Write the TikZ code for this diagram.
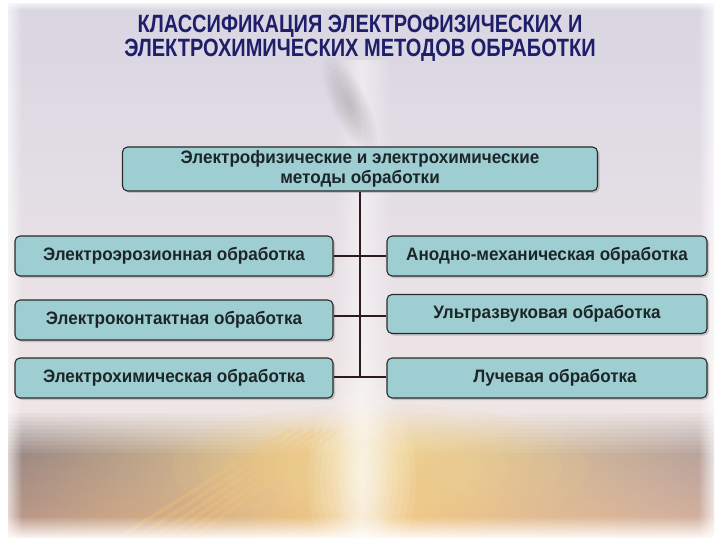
\documentclass[tikz,border=0pt]{standalone}
\usepackage{fontspec}
\setmainfont{Liberation Sans}
\newfontfamily\titlefont{Liberation Sans}[FakeStretch=0.80]
\newfontfamily\boxfont{Liberation Sans}[FakeStretch=0.95]
\usetikzlibrary{shadows,fadings}
\definecolor{boxfill}{HTML}{9FCED2}
\definecolor{boxline}{HTML}{2A2A2A}
\definecolor{titlecol}{HTML}{1E1E6A}
\definecolor{txtcol}{HTML}{1C2628}
\definecolor{linecol}{HTML}{2E1C1C}
\definecolor{bgA}{HTML}{D9D6E2}
\definecolor{bgB}{HTML}{E7E0E6}
\definecolor{bgC}{HTML}{EEE5E5}
\definecolor{glowA}{HTML}{F7E2A6}
\definecolor{glowB}{HTML}{F3C580}
\definecolor{gold}{HTML}{F6D68A}
\definecolor{grayL}{HTML}{857C80}
\definecolor{grayLb}{HTML}{C09A88}
\definecolor{grayR}{HTML}{A3979A}
\definecolor{grayRb}{HTML}{D7B2A0}
\tikzset{
  methodbox/.style={rectangle, rounded corners=5pt, fill=boxfill, draw=boxline,
    line width=1.1pt, text=txtcol, font=\boxfont\bfseries\fontsize{18}{20}\selectfont,
    align=center, drop shadow={shadow xshift=2pt, shadow yshift=-2pt, opacity=0.35}},
  conn/.style={draw=linecol, line width=1.4pt}
}
\begin{document}
\begin{tikzpicture}[x=1pt,y=-1pt]
\useasboundingbox (0,0) rectangle (720,540);
% background
\fill[white] (0,0) rectangle (720,540);
\shade[top color=bgA, bottom color=bgB] (8,4) rectangle (714,250.5);
\shade[top color=bgB, bottom color=bgC] (8,250) rectangle (714,406);
\foreach \i in {0,...,32} {
  \pgfmathtruncatemacro{\p}{min(100,max(0,(\i-1)*100/11))}
  \pgfmathtruncatemacro{\q}{\i*100/32}
  \colorlet{cl}{grayLb!\q!grayL}\colorlet{cl}{cl!\p!bgC}
  \colorlet{cm}{glowB!\q!glowA}\colorlet{cm}{cm!\p!bgC}
  \colorlet{cr}{grayRb!\q!grayR}\colorlet{cr}{cr!\p!bgC}
  \shade[left color=cl, right color=cr, middle color=cm] (8,{405+4*\i}) rectangle (714,{409.6+4*\i});
}
% broad golden glow
\foreach \k in {1,...,8} {
  \fill[gold, opacity=0.08] (380,468) ellipse ({26*\k} and {8*\k});
}
% streaks
\foreach \a in {0,9,18,27,38,50} {
  \draw[glowA!70!orange, opacity=0.3, line width=3.5pt, line cap=round] (340-\a,430) -- (190-1.5*\a,540);
}
% bottom central white glow
\foreach \k in {1,...,9} {
  \fill[white, opacity=0.09] (362,480) ellipse ({6*\k} and {11*\k});
}
% vertical beam
\fill[white, opacity=0.45, path fading=west] (335,60) rectangle (362,540);
\fill[white, opacity=0.45, path fading=east] (362,60) rectangle (392,540);
% gray smudge
\foreach \k in {1,...,8} {
  \fill[gray, opacity=0.05, rotate around={-65:(350,105)}] (350,105) ellipse ({6.5*\k} and {2.2*\k});
}
% soft white edges
\fill[white, path fading=east] (0,0) rectangle (22,540);
\fill[white, path fading=west] (698,0) rectangle (720,540);
\fill[white, path fading=north] (0,516) rectangle (720,540);
\fill[white, path fading=south] (0,0) rectangle (720,10);
% title
\node[text=titlecol, font=\titlefont\bfseries\fontsize{25}{25}\selectfont, align=center] (title) at (360,38)
  {КЛАССИФИКАЦИЯ ЭЛЕКТРОФИЗИЧЕСКИХ И\\[-1pt]ЭЛЕКТРОХИМИЧЕСКИХ МЕТОДОВ ОБРАБОТКИ};
% boxes
\node[methodbox, minimum width=475pt, minimum height=44pt, font=\boxfont\bfseries\fontsize{18}{19.5}\selectfont] (top) at (360,169)
  {Электрофизические и электрохимические\\методы обработки};
\node[methodbox, minimum width=318pt, minimum height=40pt] (L1) at (174,256) {Электроэрозионная обработка};
\node[methodbox, minimum width=318pt, minimum height=40pt] (L2) at (174,320) {Электроконтактная обработка};
\node[methodbox, minimum width=318pt, minimum height=40pt] (L3) at (174,378) {Электрохимическая обработка};
\node[methodbox, minimum width=320pt, minimum height=40pt] (R1) at (547,256) {Анодно-механическая обработка};
\node[methodbox, minimum width=320pt, minimum height=39pt] (R2) at (547,314) {Ультразвуковая обработка};
\node[methodbox, minimum width=320pt, minimum height=40pt] (R3) at (547,378) {\hspace*{16pt}Лучевая обработка};
% connectors
\coordinate (j2) at (360,316);
\coordinate (j3) at (360,377);
\draw[conn] (top.south) -- (j3);
\draw[conn] (L1.east) -- (R1.west);
\draw[conn] (L2.east |- j2) -- (R2.west |- j2);
\draw[conn] (L3.east |- j3) -- (R3.west |- j3);
\end{tikzpicture}
\end{document}
